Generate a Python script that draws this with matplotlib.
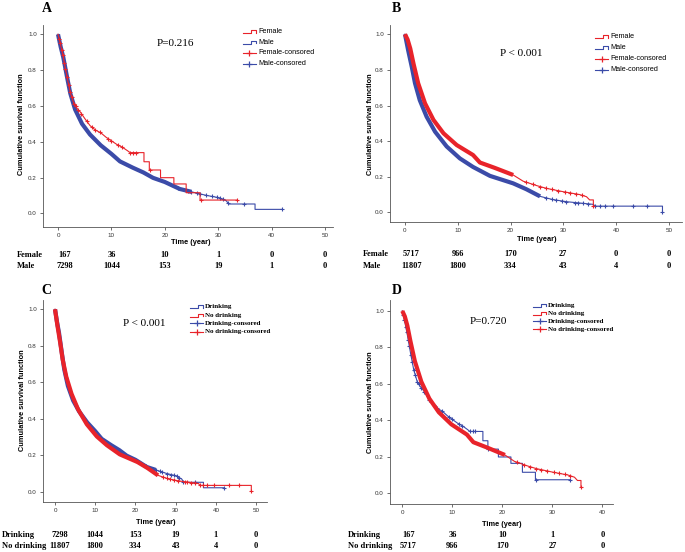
import numpy as np
import matplotlib
matplotlib.use('Agg')
import matplotlib.pyplot as plt
from matplotlib.lines import Line2D
from matplotlib.transforms import blended_transform_factory

# ---- data ----
# female / drinking-female group (n=167)
fem_a_t = [0, 0.5, 1.0, 1.7, 2.3, 3.0, 3.6, 4.2, 5.0, 6.0, 7.0, 8.0, 9.0, 10.0, 11.0, 12.0, 13.0, 13.5,
           16.1, 16.1, 17.1, 17.1, 19.2, 19.2, 21.7, 21.7, 24.0, 24.0, 26.6, 26.6, 33.6]
fem_a_s = [1.0, 0.94, 0.87, 0.76, 0.675, 0.61, 0.585, 0.565, 0.53, 0.49, 0.465, 0.45, 0.425, 0.405, 0.385, 0.37, 0.35, 0.339,
           0.339, 0.288, 0.288, 0.242, 0.242, 0.199, 0.199, 0.164, 0.164, 0.115, 0.115, 0.074, 0.074]
fem_a_cens = [0.2, 0.4, 0.7, 0.9, 1.2, 1.4, 1.7, 2.0, 2.3, 2.6, 3.0, 3.3, 3.8, 4.4, 5.4, 6.3, 6.9, 7.9, 9.4, 10.0,
              11.3, 11.9, 13.5, 14.1, 14.6, 17.2, 26.8, 33.6]

# male / drinking group (n=7298)
male_a_t = [0, 0.5, 1.0, 1.7, 2.3, 3.2, 4.5, 6.0, 8.0, 10.0, 11.6, 14.0, 16.0, 17.8, 20.0, 22.8, 25.0, 27.8, 30.0,
            31.5, 32.0, 36.9, 36.9, 42.0]
male_a_s = [1.0, 0.93, 0.87, 0.76, 0.67, 0.58, 0.50, 0.44, 0.38, 0.332, 0.29, 0.255, 0.228, 0.198, 0.175, 0.136, 0.12,
            0.10, 0.088, 0.07, 0.052, 0.052, 0.022, 0.022]
male_a_cens = [22.5, 24.4, 25.0, 26.0, 26.6, 27.8, 28.8, 29.7, 30.3, 30.9, 31.9, 34.8, 42.0]

# female / no-drinking group (n=5717)
fem_b_t = [0, 0.5, 1.0, 1.6, 2.5, 3.8, 5.4, 7.3, 9.8, 12.9, 14.2, 17.0, 20.5, 22.4, 25.0, 26.8, 30.0, 33.1, 34.4,
           35.0, 35.7, 35.7]
fem_b_s = [1.0, 0.97, 0.92, 0.837, 0.725, 0.612, 0.519, 0.444, 0.378, 0.322, 0.28, 0.25, 0.21, 0.175, 0.15, 0.135,
           0.116, 0.10, 0.088, 0.07, 0.07, 0.035]
fem_b_cens = [23.0, 24.3, 25.6, 26.8, 27.8, 29.0, 30.3, 31.3, 32.5, 33.5, 35.7]

# male / no-drinking group (n=11807)
male_b_t = [0, 0.6, 1.3, 1.9, 2.8, 4.1, 5.7, 7.9, 10.4, 12.9, 16.1, 20.5, 23.0, 25.6, 28.0, 30.6, 35.7, 36.0,
            48.8, 48.8]
male_b_s = [1.0, 0.91, 0.815, 0.725, 0.63, 0.537, 0.453, 0.37, 0.303, 0.255, 0.205, 0.163, 0.13, 0.09, 0.072, 0.06,
            0.045, 0.035, 0.035, 0.003]
male_b_cens = [26.8, 27.8, 28.7, 29.7, 30.6, 32.2, 32.8, 33.8, 34.7, 36.0, 36.9, 37.9, 39.5, 43.2, 45.8, 48.8]

# numbers at risk
risk_times_50 = [0, 10, 20, 30, 40, 50]
risk_times_40 = [0, 10, 20, 30, 40]
risk_a = {'Female': [167, 36, 10, 1, 0, 0], 'Male': [7298, 1044, 153, 19, 1, 0]}
risk_b = {'Female': [5717, 966, 170, 27, 0, 0], 'Male': [11807, 1800, 334, 43, 4, 0]}
risk_c = {'Drinking': [7298, 1044, 153, 19, 1, 0], 'No drinking': [11807, 1800, 334, 43, 4, 0]}
risk_d = {'Drinking': [167, 36, 10, 1, 0], 'No drinking': [5717, 966, 170, 27, 0]}

p_values = ['P=0.216', 'P < 0.001', 'P < 0.001', 'P=0.720']

RED = '#e8232a'
BLUE = '#3b4ba8'
W, H = 685, 552
SANS = 'Liberation Sans'
SERIF = 'Liberation Serif'


def fx(x):
    return x / W


def fy(y):
    return 1 - y / H


def draw_curve(ax, t, s, cens, color, thick_end):
    t = np.array(t)
    s = np.array(s)
    ax.plot(t, s, color=color, lw=0.8)
    if thick_end:
        m = t <= thick_end
        ax.plot(t[m], s[m], color=color, lw=3.0, solid_capstyle='butt')
    cy = np.interp(cens, t, s)
    ax.plot(cens, cy, ls='none', marker='+', ms=3.5, mew=0.8, color=color)


def draw_legend(fig, x, y0, dy, entries, font):
    for i, (label, color, kind) in enumerate(entries):
        y = y0 + i * dy
        if kind == 'step':
            xs = [x, x + 7.5, x + 7.5, x + 13, x + 13]
            ys = [y + 1.5, y + 1.5, y - 1.5, y - 1.5, y + 0.8]
        else:
            xs = [x, x + 13]
            ys = [y, y]
        fig.add_artist(Line2D([fx(v) for v in xs], [fy(v) for v in ys], color=color, lw=0.8,
                              transform=fig.transFigure))
        if kind == 'cens':
            fig.add_artist(Line2D([fx(x + 6.5)], [fy(y)], marker='+', ms=4, mew=0.9, color=color,
                                  transform=fig.transFigure))
        fig.text(fx(x + 15), fy(y), label, va='center', ha='left', **font)


fig = plt.figure(figsize=(6.85, 5.52), dpi=100)

# pixel boxes: left, top, right, bottom ; xlim ; ylim
panels = [
    dict(box=(43, 25, 333, 227), xlim=(-2.81, 51.5), ylim=(-0.0765, 1.052), xticks=risk_times_50),
    dict(box=(390, 25, 682, 222), xlim=(-2.84, 52.5), ylim=(-0.054, 1.052), xticks=risk_times_50),
    dict(box=(43, 300, 267, 502), xlim=(-2.99, 52.7), ylim=(-0.056, 1.051), xticks=risk_times_50),
    dict(box=(390, 300, 613, 504), xlim=(-2.46, 42.1), ylim=(-0.059, 1.06), xticks=risk_times_40),
]

axes = []
for p in panels:
    l, t, r, b = p['box']
    ax = fig.add_axes([fx(l), fy(b), (r - l) / W, (b - t) / H])
    ax.set_xlim(*p['xlim'])
    ax.set_ylim(*p['ylim'])
    ax.set_xticks(p['xticks'])
    ax.set_yticks([0, 0.2, 0.4, 0.6, 0.8, 1.0])
    ax.set_yticklabels(['0.0', '0.2', '0.4', '0.6', '0.8', '1.0'])
    for side in ['top', 'right']:
        ax.spines[side].set_visible(False)
    for side in ['left', 'bottom']:
        ax.spines[side].set_color('#555555')
        ax.spines[side].set_linewidth(0.6)
    ax.tick_params(direction='out', length=2.5, width=0.6, color='#555555', labelsize=4.5,
                   labelcolor='#333333', pad=2)
    for lab in ax.get_xticklabels() + ax.get_yticklabels():
        lab.set_family(SANS)
    axes.append(ax)

axA, axB, axC, axD = axes

# curves: blue below, red on top
draw_curve(axA, male_a_t, male_a_s, male_a_cens, BLUE, 25)
draw_curve(axA, fem_a_t, fem_a_s, fem_a_cens, RED, None)

draw_curve(axB, male_b_t, male_b_s, male_b_cens, BLUE, 26)
draw_curve(axB, fem_b_t, fem_b_s, fem_b_cens, RED, 22)

draw_curve(axC, male_a_t, male_a_s, male_a_cens, BLUE, 25)
draw_curve(axC, male_b_t, male_b_s, male_b_cens, RED, 26)

draw_curve(axD, fem_a_t, fem_a_s, fem_a_cens, BLUE, None)
draw_curve(axD, fem_b_t, fem_b_s, fem_b_cens, RED, 22)

# panel letters
for letter, (x, y) in zip('ABCD', [(42, 9), (392, 9), (41, 290), (392, 290)]):
    fig.text(fx(x), fy(y), letter, ha='left', va='center', fontsize=10, fontweight='bold', family=SERIF)

# p values
for txt, (x, y) in zip(p_values, [(157, 43), (500, 53), (123, 324), (470, 322)]):
    fig.text(fx(x), fy(y), txt, ha='left', va='center', fontsize=8, family=SERIF)

# axis labels
for (x, y) in [(22, 124), (370, 124), (23, 400), (370, 402)]:
    fig.text(fx(x), fy(y), 'Cumulative survival function', rotation=90, ha='center', va='center',
             fontsize=5.3, fontweight='bold', family=SANS)
for (x, y) in [(191, 242), (537, 240), (156, 522), (502, 525)]:
    fig.text(fx(x), fy(y), 'Time (year)', ha='center', va='center', fontsize=5.3, fontweight='bold', family=SANS)

# legends
sans_font = dict(fontsize=5.2, family=SANS)
serif_font = dict(fontsize=5.0, family=SERIF, fontweight='bold')
draw_legend(fig, 243, 31.7, 10.6, [('Female', RED, 'step'), ('Male', BLUE, 'step'),
                                   ('Female-consored', RED, 'cens'), ('Male-consored', BLUE, 'cens')], sans_font)
draw_legend(fig, 595, 36.7, 11.0, [('Female', RED, 'step'), ('Male', BLUE, 'step'),
                                   ('Female-consored', RED, 'cens'), ('Male-consored', BLUE, 'cens')], sans_font)
draw_legend(fig, 190, 306.7, 8.3, [('Drinking', BLUE, 'step'), ('No drinking', RED, 'step'),
                                   ('Drinking-consored', BLUE, 'cens'), ('No drinking-consored', RED, 'cens')],
            serif_font)
draw_legend(fig, 533, 305, 8.1, [('Drinking', BLUE, 'step'), ('No drinking', RED, 'step'),
                                 ('Drinking-consored', BLUE, 'cens'), ('No drinking-consored', RED, 'cens')],
            serif_font)

# numbers at risk
risk_font = dict(fontsize=6.0, fontweight='bold', family=SERIF)
for ax, risk, times, label_x, rows in [(axA, risk_a, risk_times_50, 17, (255, 266)),
                                       (axB, risk_b, risk_times_50, 363, (254, 266)),
                                       (axC, risk_c, risk_times_50, 2, (535, 546)),
                                       (axD, risk_d, risk_times_40, 348, (535, 546))]:
    tr = blended_transform_factory(ax.transData, fig.transFigure)
    for (name, vals), y in zip(risk.items(), rows):
        fig.text(fx(label_x), fy(y), name, ha='left', va='center', **risk_font)
        for tt, v in zip(times, vals):
            # first column sits a little right of its tick in the source table
            xt = tt + 1.2 if tt == 0 else tt
            fig.text(xt, fy(y), str(v), ha='center', va='center', transform=tr, **risk_font)

fig.savefig('out.png', dpi=100)
